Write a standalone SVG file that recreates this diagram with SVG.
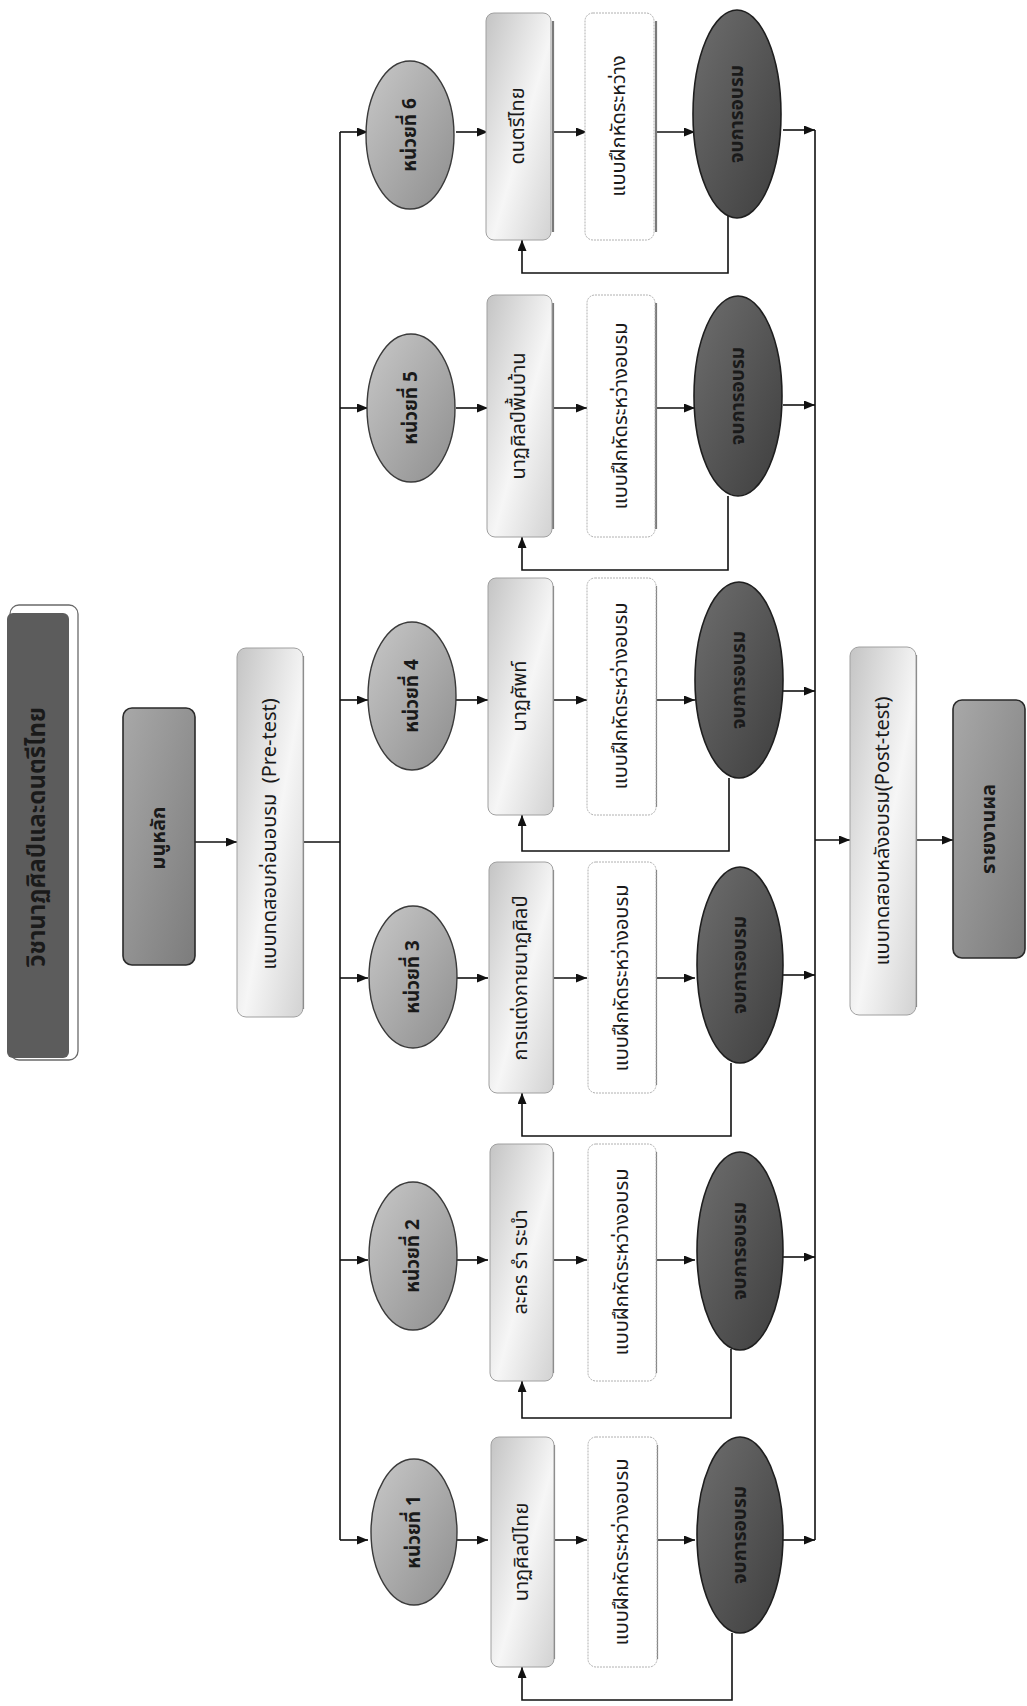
<svg xmlns="http://www.w3.org/2000/svg" width="1027" height="1706" viewBox="0 0 1027 1706">
<style>
  .t { font-family: "Noto Sans Thai", "Loma", "Garuda", "Norasi", "DejaVu Sans", sans-serif; text-anchor: middle; dominant-baseline: central; fill: #1a1a1a; }
  .b { font-weight: bold; }
  .s20 { font-size: 20px; }
  .s19 { font-size: 19px; }
  .s24 { font-size: 24px; }
  .conn path { fill: none; stroke: #111; stroke-width: 1.6; }
  .arr { marker-end: url(#ah); }
  .box1 { fill: url(#gLight); stroke: #a0a0a0; stroke-width: 1; }
  .box2 { fill: #ffffff; stroke: #b0b0b0; stroke-width: 1; stroke-dasharray: 2 1; }
  .shadow { fill: none; stroke: #7a7a7a; stroke-width: 2.2; }
  .unit { fill: url(#gMid); stroke: #3a3a3a; stroke-width: 1.4; }
  .end { fill: url(#gDark); stroke: #1e1e1e; stroke-width: 1.6; }
  .menu { fill: url(#gMenu); stroke: #2a2a2a; stroke-width: 1.6; }
</style>
<defs>
  <marker id="ah" markerUnits="userSpaceOnUse" markerWidth="11" markerHeight="9" refX="11" refY="4.5" orient="auto">
    <path d="M0,0 L11,4.5 L0,9 Z" fill="#111"/>
  </marker>
  <linearGradient id="gLight" x1="0" y1="0" x2="1" y2="1">
    <stop offset="0" stop-color="#c4c4c4"/>
    <stop offset="0.55" stop-color="#f6f6f6"/>
    <stop offset="1" stop-color="#d2d2d2"/>
  </linearGradient>
  <linearGradient id="gMid" x1="0" y1="0" x2="1" y2="1">
    <stop offset="0" stop-color="#c8c8c8"/>
    <stop offset="1" stop-color="#8e8e8e"/>
  </linearGradient>
  <linearGradient id="gDark" x1="0" y1="0" x2="1" y2="1">
    <stop offset="0" stop-color="#6e6e6e"/>
    <stop offset="1" stop-color="#3e3e3e"/>
  </linearGradient>
  <linearGradient id="gMenu" x1="0" y1="0" x2="1" y2="1">
    <stop offset="0" stop-color="#a8a8a8"/>
    <stop offset="1" stop-color="#7c7c7c"/>
  </linearGradient>
</defs>

<rect width="1027" height="1706" fill="#ffffff"/>

<!-- connectors -->
<g id="connectors" class="conn">
  <path d="M195,842 H237" class="arr"/>
  <path d="M303,842 H340"/>
  <path d="M340,132 V1540"/>
  <path d="M815,130 V1540"/>
  <path d="M815,840 H850" class="arr"/>
  <path d="M916,840 H953" class="arr"/>
  <!-- unit 6 -->
  <path d="M340,132 H368" class="arr"/>
  <path d="M456,132 H488" class="arr"/>
  <path d="M553,132 H587" class="arr"/>
  <path d="M656,132 H695" class="arr"/>
  <path d="M783,130 H815" class="arr"/>
  <path d="M728,214 V273 H522 V240" class="arr"/>
  <!-- unit 5 -->
  <path d="M340,408 H368" class="arr"/>
  <path d="M456,408 H488" class="arr"/>
  <path d="M553,408 H587" class="arr"/>
  <path d="M656,408 H695" class="arr"/>
  <path d="M783,405 H815" class="arr"/>
  <path d="M728,496 V570 H522 V537" class="arr"/>
  <!-- unit 4 -->
  <path d="M340,700 H368" class="arr"/>
  <path d="M456,700 H488" class="arr"/>
  <path d="M553,700 H587" class="arr"/>
  <path d="M656,700 H695" class="arr"/>
  <path d="M783,691 H815" class="arr"/>
  <path d="M729,778 V851 H522 V815" class="arr"/>
  <!-- unit 3 -->
  <path d="M340,978 H368" class="arr"/>
  <path d="M456,978 H488" class="arr"/>
  <path d="M553,978 H587" class="arr"/>
  <path d="M656,978 H695" class="arr"/>
  <path d="M783,975 H815" class="arr"/>
  <path d="M731,1063 V1136 H522 V1093" class="arr"/>
  <!-- unit 2 -->
  <path d="M340,1260 H368" class="arr"/>
  <path d="M456,1260 H488" class="arr"/>
  <path d="M553,1260 H587" class="arr"/>
  <path d="M656,1260 H695" class="arr"/>
  <path d="M783,1257 H815" class="arr"/>
  <path d="M731,1349 V1418 H522 V1381" class="arr"/>
  <!-- unit 1 -->
  <path d="M340,1540 H368" class="arr"/>
  <path d="M456,1540 H488" class="arr"/>
  <path d="M553,1540 H587" class="arr"/>
  <path d="M656,1540 H695" class="arr"/>
  <path d="M783,1540 H815" class="arr"/>
  <path d="M732,1633 V1700 H522 V1667" class="arr"/>
</g>

<!-- title -->
<g id="title">
  <rect x="10" y="605" width="68" height="455" rx="9" fill="#ffffff" stroke="#6a6a6a" stroke-width="1.3"/>
  <rect x="7" y="613" width="62" height="445" rx="6" fill="#5c5c5c"/>
  <text class="t b s24" transform="translate(38,837) rotate(-90)">วิชานาฏศิลป์และดนตรีไทย</text>
</g>

<g id="menu">
  <rect x="123" y="708" width="72" height="257" rx="9" class="menu"/>
  <text class="t b s20" transform="translate(159,838) rotate(-90)">มนูหลัก</text>
</g>

<g id="pretest">
  <path d="M303,656 V1009" class="shadow"/>
  <rect x="237" y="648" width="66" height="369" rx="9" class="box1"/>
  <text class="t s20" xml:space="preserve" transform="translate(270,834) rotate(-90)">แบบทดสอบก่อนอบรม  (Pre-test)</text>
</g>

<g id="posttest">
  <path d="M916,655 V1007" class="shadow"/>
  <rect x="850" y="647" width="66" height="368" rx="9" class="box1"/>
  <text class="t s20" transform="translate(883,831) rotate(-90)">แบบทดสอบหลังอบรม(Post-test)</text>
</g>

<g id="report">
  <rect x="953" y="700" width="72" height="258" rx="9" class="menu"/>
  <text class="t b s20" transform="translate(989,829) rotate(-90)">รายงานผล</text>
</g>

<!-- unit 6 -->
<g id="unit6">
  <ellipse cx="410" cy="135" rx="44" ry="74" class="unit"/>
  <text class="t b s19" transform="translate(410,135) rotate(-90)">หน่วยที่ 6</text>
</g>
<g id="lesson6">
  <path d="M553,21 V232" class="shadow"/>
  <rect x="486" y="13" width="65" height="227" rx="8" class="box1"/>
  <text class="t s20" transform="translate(518,126) rotate(-90)">ดนตรีไทย</text>
</g>
<g id="exercise6">
  <path d="M656,21 V232" class="shadow"/>
  <rect x="585" y="13" width="69" height="227" rx="8" class="box2"/>
  <text class="t s20" transform="translate(619,126) rotate(-90)">แบบฝึกหัดระหว่าง</text>
</g>
<g id="end6">
  <ellipse cx="737" cy="114" rx="44" ry="104" class="end"/>
  <text class="t b s19" transform="translate(737,114) rotate(-90)">จบการอบรม</text>
</g>

<!-- unit 5 -->
<g id="unit5">
  <ellipse cx="411" cy="408" rx="44" ry="74" class="unit"/>
  <text class="t b s19" transform="translate(411,408) rotate(-90)">หน่วยที่ 5</text>
</g>
<g id="lesson5">
  <path d="M553,303 V529" class="shadow"/>
  <rect x="487" y="295" width="65" height="242" rx="8" class="box1"/>
  <text class="t s20" transform="translate(519,416) rotate(-90)">นาฏศิลป์พื้นบ้าน</text>
</g>
<g id="exercise5">
  <path d="M656,303 V529" class="shadow"/>
  <rect x="587" y="295" width="68" height="242" rx="8" class="box2"/>
  <text class="t s20" transform="translate(621,416) rotate(-90)">แบบฝึกหัดระหว่างอบรม</text>
</g>
<g id="end5">
  <ellipse cx="738" cy="396" rx="44" ry="100" class="end"/>
  <text class="t b s19" transform="translate(738,396) rotate(-90)">จบการอบรม</text>
</g>

<!-- unit 4 -->
<g id="unit4">
  <ellipse cx="412" cy="696" rx="44" ry="74" class="unit"/>
  <text class="t b s19" transform="translate(412,696) rotate(-90)">หน่วยที่ 4</text>
</g>
<g id="lesson4">
  <path d="M553,586 V807" class="shadow"/>
  <rect x="488" y="578" width="65" height="237" rx="8" class="box1"/>
  <text class="t s20" transform="translate(520,696) rotate(-90)">นาฏศัพท์</text>
</g>
<g id="exercise4">
  <path d="M656,586 V807" class="shadow"/>
  <rect x="587" y="578" width="69" height="237" rx="8" class="box2"/>
  <text class="t s20" transform="translate(621,696) rotate(-90)">แบบฝึกหัดระหว่างอบรม</text>
</g>
<g id="end4">
  <ellipse cx="739" cy="680" rx="44" ry="98" class="end"/>
  <text class="t b s19" transform="translate(739,680) rotate(-90)">จบการอบรม</text>
</g>

<!-- unit 3 -->
<g id="unit3">
  <ellipse cx="413" cy="977" rx="44" ry="71" class="unit"/>
  <text class="t b s19" transform="translate(413,977) rotate(-90)">หน่วยที่ 3</text>
</g>
<g id="lesson3">
  <path d="M553,870 V1085" class="shadow"/>
  <rect x="489" y="862" width="64" height="231" rx="8" class="box1"/>
  <text class="t s20" transform="translate(521,978) rotate(-90)">การแต่งกายนาฏศิลป์</text>
</g>
<g id="exercise3">
  <path d="M656,870 V1085" class="shadow"/>
  <rect x="588" y="862" width="68" height="231" rx="8" class="box2"/>
  <text class="t s20" transform="translate(622,978) rotate(-90)">แบบฝึกหัดระหว่างอบรม</text>
</g>
<g id="end3">
  <ellipse cx="740" cy="965" rx="43" ry="98" class="end"/>
  <text class="t b s19" transform="translate(740,965) rotate(-90)">จบการอบรม</text>
</g>

<!-- unit 2 -->
<g id="unit2">
  <ellipse cx="413" cy="1256" rx="44" ry="74" class="unit"/>
  <text class="t b s19" transform="translate(413,1256) rotate(-90)">หน่วยที่ 2</text>
</g>
<g id="lesson2">
  <path d="M553,1152 V1373" class="shadow"/>
  <rect x="490" y="1144" width="63" height="237" rx="8" class="box1"/>
  <text class="t s20" xml:space="preserve" transform="translate(521,1262) rotate(-90)">ละคร รำ ระบำ</text>
</g>
<g id="exercise2">
  <path d="M656,1152 V1373" class="shadow"/>
  <rect x="588" y="1144" width="68" height="237" rx="8" class="box2"/>
  <text class="t s20" transform="translate(622,1262) rotate(-90)">แบบฝึกหัดระหว่างอบรม</text>
</g>
<g id="end2">
  <ellipse cx="740" cy="1251" rx="43" ry="99" class="end"/>
  <text class="t b s19" transform="translate(740,1251) rotate(-90)">จบการอบรม</text>
</g>

<!-- unit 1 -->
<g id="unit1">
  <ellipse cx="414" cy="1532" rx="43" ry="73" class="unit"/>
  <text class="t b s19" transform="translate(414,1532) rotate(-90)">หน่วยที่ 1</text>
</g>
<g id="lesson1">
  <path d="M554,1445 V1659" class="shadow"/>
  <rect x="491" y="1437" width="63" height="230" rx="8" class="box1"/>
  <text class="t s20" transform="translate(522,1552) rotate(-90)">นาฏศิลป์ไทย</text>
</g>
<g id="exercise1">
  <path d="M657,1445 V1659" class="shadow"/>
  <rect x="588" y="1437" width="69" height="230" rx="8" class="box2"/>
  <text class="t s20" transform="translate(622,1552) rotate(-90)">แบบฝึกหัดระหว่างอบรม</text>
</g>
<g id="end1">
  <ellipse cx="740" cy="1535" rx="43" ry="98" class="end"/>
  <text class="t b s19" transform="translate(740,1535) rotate(-90)">จบการอบรม</text>
</g>
</svg>
